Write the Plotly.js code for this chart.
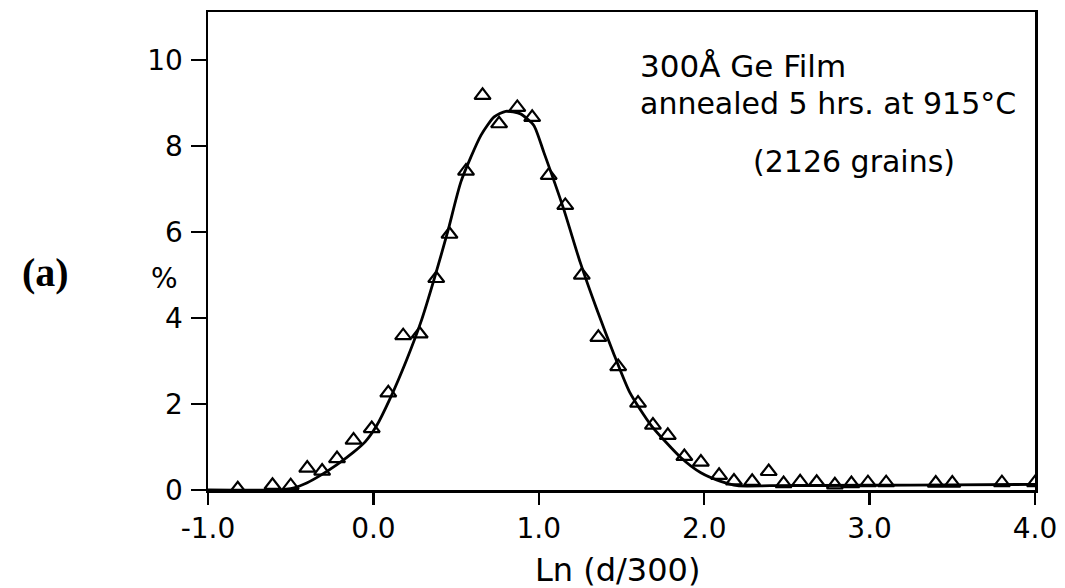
<!DOCTYPE html>
<html>
<head>
<meta charset="utf-8">
<script src="https://cdn.plot.ly/plotly-3.0.1.min.js"></script>
<style>
  html, body { margin: 0; padding: 0; background: #fff; }
  #chart { width: 1065px; height: 588px; }
</style>
</head>
<body>
<div id="chart"></div>
<script>
// Measured grain-size distribution (triangles)
const dataX = [-0.82, -0.61, -0.50, -0.40, -0.31, -0.22, -0.12, -0.01, 0.09, 0.18,
               0.28, 0.38, 0.46, 0.56, 0.66, 0.76, 0.87, 0.96, 1.06, 1.16,
               1.26, 1.36, 1.48, 1.60, 1.69, 1.78, 1.88, 1.98, 2.09, 2.18,
               2.29, 2.39, 2.48, 2.58, 2.68, 2.79, 2.89, 2.99, 3.10, 3.40,
               3.50, 3.80, 4.00];
const dataY = [0.03, 0.11, 0.10, 0.51, 0.44, 0.73, 1.16, 1.43, 2.26, 3.59,
               3.63, 4.92, 5.95, 7.42, 9.18, 8.52, 8.90, 8.67, 7.32, 6.62,
               5.00, 3.55, 2.87, 2.02, 1.51, 1.27, 0.78, 0.65, 0.34, 0.21,
               0.20, 0.43, 0.15, 0.19, 0.18, 0.12, 0.15, 0.17, 0.17, 0.16,
               0.16, 0.17, 0.17];

// Fitted curve
const fitX = [-1.0, -0.6, -0.48, -0.40, -0.32, -0.22, -0.12, -0.05, 0.02, 0.10,
              0.20, 0.29, 0.37, 0.45, 0.53, 0.65, 0.73, 0.80, 0.89, 0.97,
              1.03, 1.15, 1.25, 1.35, 1.45, 1.55, 1.68, 1.86, 1.98, 2.10,
              2.20, 2.40, 3.00, 3.50, 4.00];
const fitY = [0.0, 0.0, 0.05, 0.17, 0.34, 0.59, 0.88, 1.12, 1.50, 2.12,
              3.02, 3.94, 4.94, 6.02, 7.18, 8.25, 8.68, 8.81, 8.75, 8.48,
              7.86, 6.54, 5.30, 4.21, 3.20, 2.27, 1.50, 0.75, 0.40, 0.20,
              0.10, 0.10, 0.11, 0.12, 0.13];

const xTickVals = [-1.0, 0.0, 1.0, 2.0, 3.0, 4.0];
const xTickText = ["-1.0", "0.0", "1.0", "2.0", "3.0", "4.0"];
const yTickVals = [0, 2, 4, 6, 8, 10];
const yTickText = ["0", "2", "4", "6", "8", "10"];

const font = "DejaVu Sans, sans-serif";

const traces = [
  {
    x: fitX, y: fitY, type: "scatter", mode: "lines",
    line: { color: "#000", width: 2.8, shape: "spline", smoothing: 0.6 },
    hoverinfo: "skip"
  },
  {
    x: dataX, y: dataY, type: "scatter", mode: "markers",
    marker: { symbol: "triangle-up-open", size: 14, color: "#000",
              line: { width: 2.2, color: "#000" } }
  }
];

const layout = {
  width: 1065, height: 588,
  margin: { l: 208, r: 30, t: 12, b: 98 },
  paper_bgcolor: "#fff", plot_bgcolor: "#fff",
  showlegend: false,
  xaxis: {
    range: [-1.0, 4.0],
    tickvals: xTickVals, ticktext: xTickText,
    ticks: "outside", ticklen: 12, tickwidth: 2.5, tickcolor: "#000",
    showline: true, linewidth: 2.5, linecolor: "#000", mirror: true,
    showgrid: false, zeroline: false,
    tickfont: { family: font, size: 28, color: "#000" },
    ticklabelstandoff: 0
  },
  yaxis: {
    range: [0, 11.12],
    tickvals: yTickVals, ticktext: yTickText,
    ticks: "outside", ticklen: 15, tickwidth: 2.5, tickcolor: "#000",
    showline: true, linewidth: 2.5, linecolor: "#000", mirror: true,
    showgrid: false, zeroline: false,
    tickfont: { family: font, size: 28, color: "#000" },
    ticklabelstandoff: 2
  },
  annotations: [
    { xref: "paper", yref: "paper", x: 0.52, y: 0.887, xanchor: "left", yanchor: "middle",
      text: "300Å Ge Film", showarrow: false,
      font: { family: font, size: 31, color: "#000" } },
    { xref: "paper", yref: "paper", x: 0.52, y: 0.808, xanchor: "left", yanchor: "middle",
      text: "annealed 5 hrs. at 915°C", showarrow: false,
      font: { family: font, size: 30, color: "#000" } },
    { xref: "paper", yref: "paper", x: 0.781, y: 0.688, xanchor: "center", yanchor: "middle",
      text: "(2126 grains)", showarrow: false,
      font: { family: font, size: 30, color: "#000" } },
    { xref: "paper", yref: "paper", x: 0.495, y: -0.167, xanchor: "center", yanchor: "middle",
      text: "Ln (d/300)", showarrow: false,
      font: { family: font, size: 32, color: "#000" } },
    { xref: "paper", yref: "paper", x: -0.053, y: 0.4435, xanchor: "center", yanchor: "middle",
      text: "%", showarrow: false,
      font: { family: font, size: 28, color: "#000" } },
    { xref: "paper", yref: "paper", x: -0.196, y: 0.454, xanchor: "center", yanchor: "middle",
      text: "<b>(a)</b>", showarrow: false,
      font: { family: "Liberation Serif, serif", size: 40, color: "#000" } }
  ]
};

Plotly.newPlot("chart", traces, layout, { displayModeBar: false, staticPlot: true });
</script>
</body>
</html>
